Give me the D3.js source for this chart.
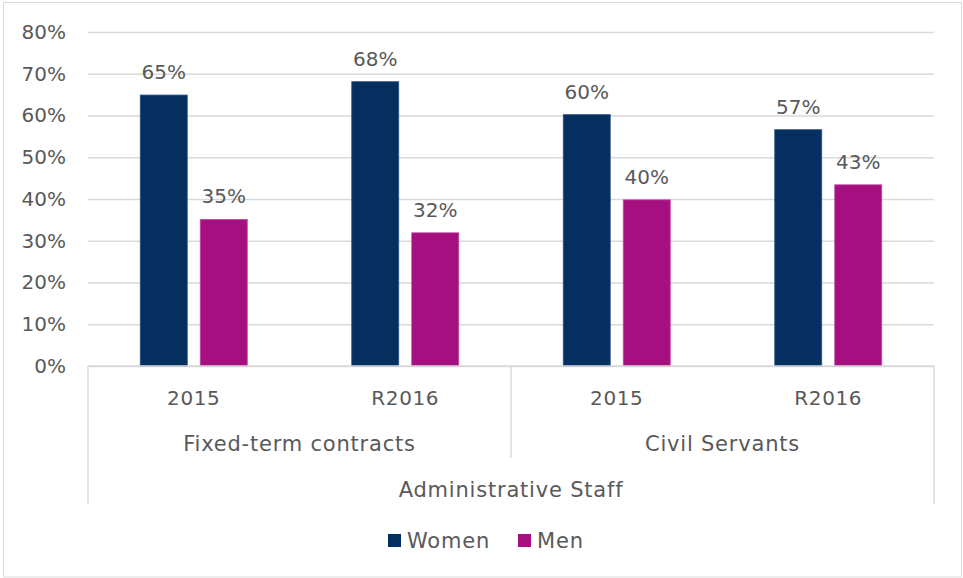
<!DOCTYPE html>
<html>
<head>
<meta charset="utf-8">
<script src="https://cdn.jsdelivr.net/npm/d3@7"></script>
<style>
  html, body { margin: 0; padding: 0; background: #fff; }
  svg text { font-family: "DejaVu Sans", sans-serif; fill: #595959; }
  svg text.word { font-size: 21px; letter-spacing: 0.8px; }
</style>
</head>
<body>
<svg id="chart" width="963" height="578"></svg>
<script>
// Share of women and men among administrative staff, by contract type and year
const years = ["2015", "R2016", "2015", "R2016"];
const groups = ["Fixed-term contracts", "Civil Servants"];
const groupOf = [0, 0, 1, 1];
const topLabel = "Administrative Staff";
const seriesNames = ["Women", "Men"];
const women = [64.9, 68.1, 60.2, 56.6];
const men = [35.1, 31.9, 39.8, 43.4];
const yTicks = [0, 10, 20, 30, 40, 50, 60, 70, 80];
const colors = ["#052F5F", "#A50F80"];

(function draw() {
  const svg = d3.select("#chart");
  const W = 963, H = 578;
  const mLeft = 88, mRight = 934, mTop = 32, mBottom = 366;
  const gridColor = "#D9D9D9";

  // outer chart frame
  svg.append("rect")
    .attr("x", 3.5).attr("y", 2.5).attr("width", W - 5).attr("height", H - 3.5)
    .attr("fill", "none").attr("stroke", gridColor).attr("stroke-width", 1);

  const y = d3.scaleLinear().domain([0, 80]).range([mBottom, mTop]);
  const x = d3.scaleBand().domain(d3.range(years.length)).range([mLeft, mRight]);
  const bw = x.bandwidth();
  const inner = d3.scaleBand().domain([0, 1])
    .range([bw / 2 - 53.5, bw / 2 + 53.5])
    .paddingInner(13 / 60).paddingOuter(0);

  // gridlines + y labels
  const yAxis = d3.axisLeft(y).tickValues(yTicks).tickFormat(d => d + "%")
    .tickSize(-(mRight - mLeft)).tickPadding(22);
  const gy = svg.append("g").attr("transform", `translate(${mLeft},0)`).call(yAxis);
  gy.select(".domain").remove();
  gy.selectAll(".tick line").attr("stroke", gridColor).attr("stroke-width", 1.5);
  gy.selectAll(".tick text").attr("font-size", 20).attr("fill", "#595959")
    .attr("font-family", null);

  // bars
  const data = [];
  years.forEach((_, i) => {
    data.push({ i, s: 0, v: women[i] });
    data.push({ i, s: 1, v: men[i] });
  });
  svg.append("g").selectAll("rect").data(data).join("rect")
    .attr("x", d => x(d.i) + inner(d.s))
    .attr("width", inner.bandwidth())
    .attr("y", d => y(d.v))
    .attr("height", d => y(0) - y(d.v))
    .attr("fill", d => colors[d.s])
    .attr("stroke", d => d.s === 0 ? "#2B5585" : "#C0489E")
    .attr("stroke-width", 0.8);

  // value labels
  svg.append("g").selectAll("text").data(data).join("text")
    .attr("x", d => x(d.i) + inner(d.s) + inner.bandwidth() / 2)
    .attr("y", d => y(d.v) - 16)
    .attr("text-anchor", "middle")
    .attr("font-size", 20)
    .text(d => Math.round(d.v) + "%");

  // multi-level category axis
  const axisG = svg.append("g").attr("stroke", gridColor).attr("stroke-width", 1.5);
  axisG.append("line").attr("x1", mLeft).attr("x2", mRight).attr("y1", mBottom).attr("y2", mBottom);
  axisG.append("line").attr("x1", mLeft).attr("x2", mLeft).attr("y1", mBottom).attr("y2", 504);
  axisG.append("line").attr("x1", mRight).attr("x2", mRight).attr("y1", mBottom).attr("y2", 504);
  const divX = x(2);
  axisG.append("line").attr("x1", divX).attr("x2", divX).attr("y1", mBottom).attr("y2", 458);

  svg.append("g").selectAll("text").data(years).join("text")
    .attr("x", (d, i) => x(i) + bw / 2)
    .attr("y", 405)
    .attr("text-anchor", "middle").attr("font-size", 20)
    .attr("letter-spacing", 0.6)
    .text(d => d);

  svg.append("g").selectAll("text").data(groups).join("text")
    .attr("class", "word")
    .attr("x", (d, g) => {
      const idx = groupOf.map((v, i) => v === g ? i : -1).filter(i => i >= 0);
      return (x(idx[0]) + x(idx[idx.length - 1]) + bw) / 2;
    })
    .attr("y", 451)
    .attr("text-anchor", "middle")
    .text(d => d);

  svg.append("text")
    .attr("class", "word")
    .attr("x", (mLeft + mRight) / 2).attr("y", 497)
    .attr("text-anchor", "middle")
    .text(topLabel);

  // legend
  const legend = svg.append("g");
  const legendX = [388, 518];
  seriesNames.forEach((name, i) => {
    legend.append("rect").attr("x", legendX[i]).attr("y", 534)
      .attr("width", 13).attr("height", 13).attr("fill", colors[i]);
    legend.append("text").attr("class", "word")
      .attr("x", legendX[i] + 19).attr("y", 548)
      .text(name);
  });
})();
</script>
</body>
</html>
